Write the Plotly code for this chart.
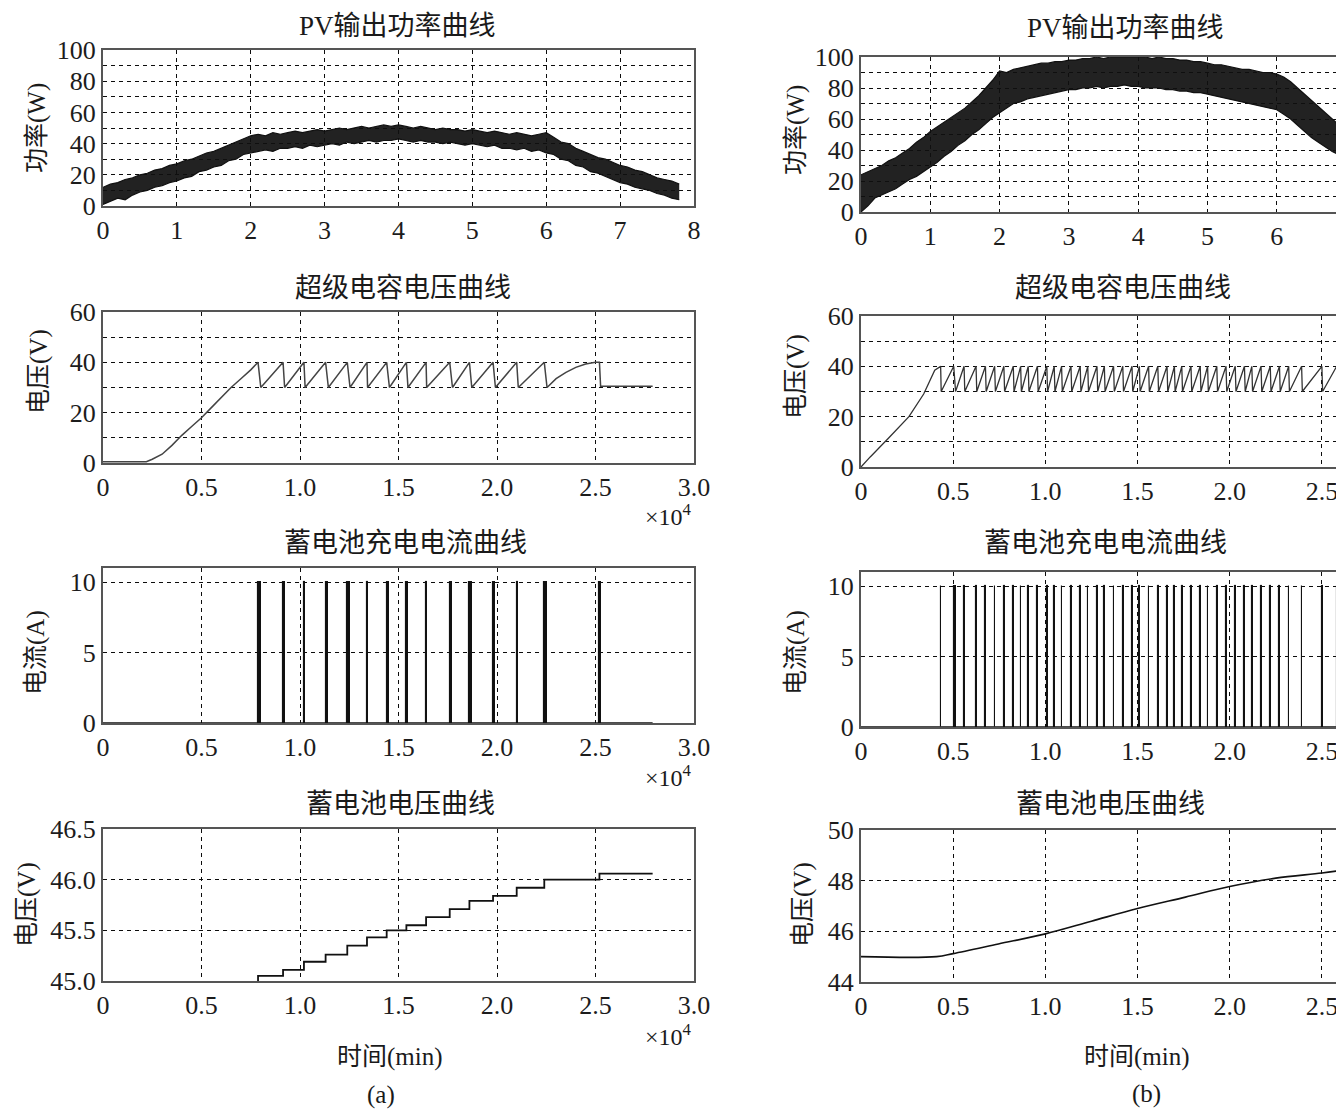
import numpy as np
import plotly.graph_objects as go

# the page body keeps its default 8px margin, so the figure is placed 8px in
OFF = 8
W, H = 1344 - OFF, 1110 - OFF
FONT = "Liberation Serif, Noto Sans CJK SC"

# ---------------- data ----------------
PV_L_X = np.round(np.arange(0, 7.85, 0.1), 1)
PV_L_LOW = [1, 3, 5, 4, 7, 9, 10, 12, 13, 15, 16, 18, 19, 22, 23, 25, 26, 29, 30, 33,
            34, 35, 36, 35, 37, 37, 38, 37, 39, 38, 39, 40, 39, 41, 40, 41, 42, 41, 42, 42,
            43, 42, 41, 42, 41, 41, 40, 41, 40, 39, 40, 39, 38, 39, 37, 37, 36, 37, 35, 36,
            34, 33, 30, 29, 26, 25, 22, 21, 19, 17, 15, 14, 12, 11, 10, 8, 7, 5, 4]
PV_L_HIGH = [12, 14, 15, 17, 18, 20, 21, 23, 24, 26, 27, 29, 30, 32, 34, 35, 37, 39, 41, 43,
             45, 46, 45, 47, 46, 47, 48, 47, 48, 49, 48, 49, 50, 49, 50, 51, 50, 51, 52, 51,
             52, 51, 50, 51, 50, 49, 50, 49, 49, 48, 49, 48, 47, 48, 47, 46, 47, 46, 45, 46,
             47, 44, 41, 40, 37, 35, 33, 31, 30, 28, 26, 25, 23, 22, 20, 18, 17, 16, 14]

PV_R_X = np.round(np.arange(0, 7.05, 0.1), 1)
PV_R_LOW = [0, 4, 9, 11, 13, 15, 18, 21, 23, 26, 29, 32, 36, 39, 43, 46, 50, 53, 57, 61,
            64, 67, 70, 71, 73, 74, 75, 76, 77, 78, 79, 79, 80, 80, 81, 80, 81, 81, 82, 81,
            81, 80, 80, 80, 79, 79, 78, 78, 77, 77, 76, 75, 74, 73, 72, 71, 70, 69, 68, 67,
            66, 63, 60, 56, 52, 48, 45, 42, 39, 37, 35]
PV_R_HIGH = [24, 26, 28, 30, 33, 35, 38, 41, 45, 48, 52, 55, 58, 61, 64, 67, 71, 75, 80, 85,
             91, 90, 92, 93, 94, 95, 96, 96, 97, 97, 98, 98, 99, 99, 100, 99, 100, 100, 100, 100,
             100, 100, 99, 100, 99, 99, 98, 98, 97, 97, 96, 95, 95, 94, 93, 92, 92, 91, 90, 90,
             89, 87, 84, 80, 76, 72, 68, 64, 60, 56, 52]

# battery charging pulses: start time and duration (x10^4)
PULSE_L_T = [0.787, 0.914, 1.02, 1.13, 1.24, 1.34, 1.44, 1.54, 1.64, 1.76, 1.86, 1.98, 2.10, 2.24, 2.52]
PULSE_L_W = [0.014, 0.008, 0.006, 0.014, 0.014, 0.003, 0.014, 0.008, 0.003, 0.014, 0.012, 0.012, 0.008, 0.014, 0.008]
PULSE_R_T = [0.432, 0.503, 0.559, 0.624, 0.675, 0.725, 0.775, 0.826, 0.866, 0.907, 0.957, 1.008,
             1.048, 1.088, 1.139, 1.189, 1.23, 1.28, 1.32, 1.37, 1.42, 1.47, 1.51, 1.56, 1.61,
             1.66, 1.70, 1.74, 1.79, 1.84, 1.88, 1.93, 1.98, 2.03, 2.08, 2.12, 2.17, 2.22, 2.27,
             2.32, 2.39, 2.50, 2.58]
PULSE_R_W = [0.003, 0.01] + [0.004] * 41
I_PEAK = 10

# supercapacitor voltage
SC_HI, SC_LO = 40, 30
SC_L_RISE_X = [0, 0.22, 0.25, 0.30, 0.35, 0.40, 0.45, 0.50, 0.55, 0.60, 0.65, 0.70, 0.75]
SC_L_RISE_Y = [0.5, 0.5, 1.5, 3.5, 7, 11, 14.5, 18, 22, 26, 30, 33.5, 37]
SC_L_TAIL_X = [2.30, 2.35, 2.40, 2.45, 2.50, 2.52, 2.526, 2.79]
SC_L_TAIL_Y = [33.5, 36, 38, 39.3, 40, 40, 30.5, 30.5]
SC_R_RISE_X = [0, 0.05, 0.15, 0.26, 0.34, 0.40]
SC_R_RISE_Y = [0, 4, 11.5, 20, 29, 38.5]
SC_R_TAIL_X = [2.62]
SC_R_TAIL_Y = [34]

# battery voltage
BV_L_LEVELS = [45.0, 45.05, 45.11, 45.19, 45.26, 45.35, 45.43, 45.5, 45.55, 45.63,
               45.71, 45.79, 45.84, 45.92, 46.0, 46.06]
BV_L_END = 2.79
BV_R_X = [0, 0.41, 0.5, 0.745, 1.0, 1.25, 1.5, 1.76, 2.0, 2.25, 2.5, 2.62]
BV_R_Y = [45.0, 45.0, 45.12, 45.5, 45.9, 46.4, 46.9, 47.35, 47.77, 48.1, 48.3, 48.42]

# ticks
PV_XT = [0, 1, 2, 3, 4, 5, 6, 7, 8]
T_XT = [0, 0.5, 1.0, 1.5, 2.0, 2.5, 3.0]
T_XL = ["0", "0.5", "1.0", "1.5", "2.0", "2.5", "3.0"]
PV_YT = [0, 20, 40, 60, 80, 100]
PV_YMINOR = [10, 30, 50, 70, 90]
SC_YT = [0, 20, 40, 60]
SC_YMINOR = [10, 30, 50]
I_YT = [0, 5, 10]
BVL_YT = [45.0, 45.5, 46.0, 46.5]
BVL_YL = ["45.0", "45.5", "46.0", "46.5"]
BVR_YT = [44, 46, 48, 50]

TITLES = ["PV输出功率曲线", "超级电容电压曲线", "蓄电池充电电流曲线", "蓄电池电压曲线"]
YTITLES = ["功率(W)", "电压(V)", "电流(A)", "电压(V)"]

# ---------------- helpers ----------------
def sawtooth(rx, ry, drops, widths, tx, ty):
    xs, ys = list(rx), list(ry)
    for t, w in zip(drops, widths):
        xs += [t, t + w]
        ys += [SC_HI, SC_LO]
    return xs + list(tx), ys + list(ty)

fig = go.Figure()

# plot-area boxes in screenshot pixels
LEFT_X = (103, 694)
RIGHT_X = (861, 1344)
ROWS_L = [(50, 206), (312, 463), (568, 723), (829, 981)]
ROWS_R = [(57, 212), (316, 467), (572, 727), (830, 982)]

def px_x(p):
    return (p - OFF) / W

def px_y(p):
    return 1 - (p - OFF) / H

def dom_x(a):
    return [px_x(a[0]), min(1.0, px_x(a[1]))]

def dom_y(r):
    return [px_y(r[1]), px_y(r[0])]

tickfont = dict(family=FONT, size=26, color="#1c1c1c")
GRID = dict(showgrid=True, gridcolor="#0d0d0d", griddash="4px,4px", gridwidth=1.1)

def axis(dom, anchor, rng, tv, tt, mirror, minor=None):
    d = dict(domain=dom, anchor=anchor, range=rng, tickvals=tv, ticktext=tt,
             showline=True, linecolor="#555", linewidth=2, mirror=mirror,
             zeroline=False, ticks="", tickfont=tickfont, fixedrange=True,
             automargin=False, **GRID)
    if minor:
        d["minor"] = dict(tickvals=minor, ticks="", **GRID)
    return d

layout_axes = {}
for col in range(2):
    right = col == 1
    for row in range(4):
        k = col * 4 + row + 1
        xr = RIGHT_X if right else LEFT_X
        yr = (ROWS_R if right else ROWS_L)[row]
        minor = None
        if row == 0:
            xrng = [0, 6.97] if right else [0, 8]
            tv, tt = PV_XT, [str(v) for v in PV_XT]
            yrng, ytv, ytt, minor = [0, 100], PV_YT, [str(v) for v in PV_YT], PV_YMINOR
        else:
            xrng = [0, 2.62] if right else [0, 3]
            tv, tt = T_XT, T_XL
            if row == 1:
                yrng, ytv, ytt, minor = [0, 60], SC_YT, [str(v) for v in SC_YT], SC_YMINOR
            elif row == 2:
                yrng, ytv, ytt = [0, 11], I_YT, [str(v) for v in I_YT]
            elif right:
                yrng, ytv, ytt = [44, 50], BVR_YT, [str(v) for v in BVR_YT]
            else:
                yrng, ytv, ytt = [45, 46.5], BVL_YT, BVL_YL
        sx = "" if k == 1 else str(k)
        layout_axes["xaxis" + sx] = axis(dom_x(xr), "y" + sx, xrng, tv, tt, True)
        layout_axes["yaxis" + sx] = axis(dom_y(yr), "x" + sx, yrng, ytv, ytt, not right, minor)

def ax(k):
    s = "" if k == 1 else str(k)
    return dict(xaxis="x" + s, yaxis="y" + s)

common = dict(mode="lines", showlegend=False, hoverinfo="skip")

# PV bands
for k, X, LO, HI in [(1, PV_L_X, PV_L_LOW, PV_L_HIGH), (5, PV_R_X, PV_R_LOW, PV_R_HIGH)]:
    fig.add_trace(go.Scatter(x=X, y=LO, line=dict(color="#111", width=1.2), **common, **ax(k)))
    fig.add_trace(go.Scatter(x=X, y=HI, line=dict(color="#111", width=1.2), fill="tonexty",
                             fillcolor="rgba(15,15,15,0.92)", **common, **ax(k)))

# supercapacitor
xs, ys = sawtooth(SC_L_RISE_X, SC_L_RISE_Y, PULSE_L_T[:-1], PULSE_L_W[:-1], SC_L_TAIL_X, SC_L_TAIL_Y)
fig.add_trace(go.Scatter(x=xs, y=ys, line=dict(color="#444", width=1.5), **common, **ax(2)))
xs, ys = sawtooth(SC_R_RISE_X, SC_R_RISE_Y, PULSE_R_T, PULSE_R_W, SC_R_TAIL_X, SC_R_TAIL_Y)
fig.add_trace(go.Scatter(x=xs, y=ys, line=dict(color="#333", width=1.3), **common, **ax(6)))

# charging current: baseline + rectangular pulses as bars
for k, T, Wd, end in [(3, PULSE_L_T, PULSE_L_W, 2.79), (7, PULSE_R_T, PULSE_R_W, 2.62)]:
    fig.add_trace(go.Scatter(x=[0, end], y=[0, 0], line=dict(color="#111", width=1.5), **common, **ax(k)))
    fig.add_trace(go.Bar(x=[t + w / 2 for t, w in zip(T, Wd)], y=[I_PEAK] * len(T), width=Wd,
                         marker=dict(color="#111", line=dict(color="#111", width=1.1)),
                         showlegend=False, hoverinfo="skip", **ax(k)))

# battery voltage
bx = [PULSE_L_T[0]] + PULSE_L_T + [BV_L_END]
by = BV_L_LEVELS + [BV_L_LEVELS[-1]]
fig.add_trace(go.Scatter(x=bx, y=by, line=dict(color="#111", width=1.8, shape="hv"), **common, **ax(4)))
fig.add_trace(go.Scatter(x=BV_R_X, y=BV_R_Y, line=dict(color="#111", width=1.6, shape="spline"),
                         **common, **ax(8)))

# annotations (positions in screenshot pixels)
def ann(text, px, py, size, angle=0):
    return dict(text=text, x=px_x(px), y=px_y(py), xref="paper", yref="paper", showarrow=False,
                font=dict(family=FONT, size=size, color="#1a1a1a"), textangle=angle,
                xanchor="center", yanchor="middle")

anns = []
L_TITLE_POS = [(397, 26), (403, 288), (405, 543), (400, 804)]
R_TITLE_POS = [(1125, 28), (1123, 288), (1105, 543), (1110, 804)]
L_YT_POS = [(37, 128), (39, 372), (36, 653), (27, 905)]
R_YT_POS = [(796, 130), (796, 377), (796, 653), (803, 905)]
for i in range(4):
    anns.append(ann(TITLES[i], *L_TITLE_POS[i], 27))
    anns.append(ann(TITLES[i], *R_TITLE_POS[i], 27))
    anns.append(ann(YTITLES[i], *L_YT_POS[i], 25, -90))
    anns.append(ann(YTITLES[i], *R_YT_POS[i], 25, -90))
for py in (515, 776, 1035):
    anns.append(ann("×10<sup>4</sup>", 668, py, 24))
anns.append(ann("时间(min)", 390, 1057, 25))
anns.append(ann("(a)", 381, 1095, 25))
anns.append(ann("时间(min)", 1137, 1057, 25))
anns.append(ann("(b)", 1146, 1094, 25))

fig.update_layout(template="none", width=W, height=H, margin=dict(l=0, r=0, t=0, b=0, pad=0),
                  paper_bgcolor="white", plot_bgcolor="white", annotations=anns,
                  showlegend=False, barmode="overlay", bargap=0, **layout_axes)

fig.write_html("out.html", config={"displayModeBar": False})
